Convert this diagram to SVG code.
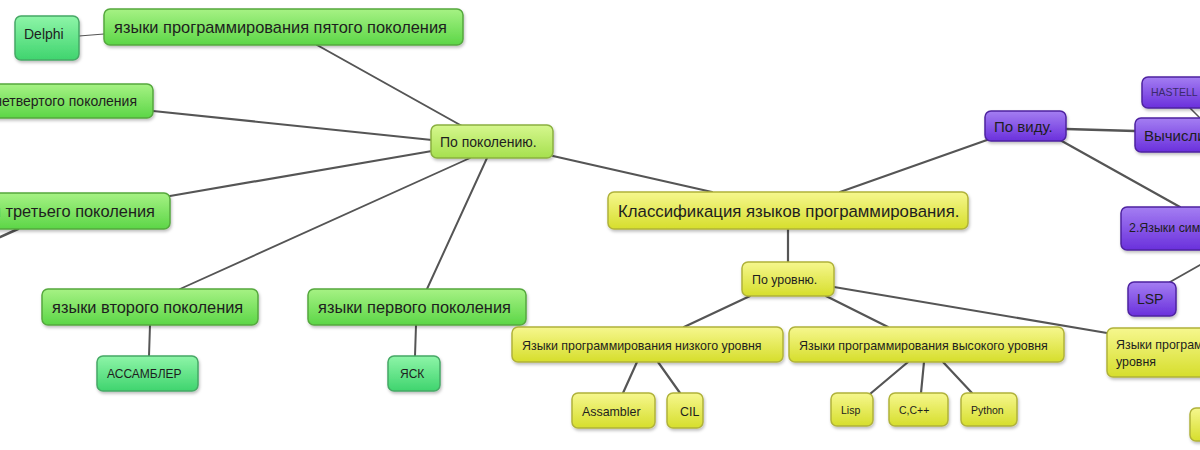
<svg xmlns="http://www.w3.org/2000/svg" width="1200" height="450" viewBox="0 0 1200 450">
<defs>
<linearGradient id="gGreen" x1="0" y1="0" x2="0" y2="1"><stop offset="0" stop-color="#a6f284"/><stop offset="1" stop-color="#5cd647"/></linearGradient>
<linearGradient id="gMint" x1="0" y1="0" x2="0" y2="1"><stop offset="0" stop-color="#8ef5a8"/><stop offset="1" stop-color="#3fd46e"/></linearGradient>
<linearGradient id="gHub" x1="0" y1="0" x2="0" y2="1"><stop offset="0" stop-color="#d6f78e"/><stop offset="1" stop-color="#a5e04e"/></linearGradient>
<linearGradient id="gYellow" x1="0" y1="0" x2="0" y2="1"><stop offset="0" stop-color="#f6f78e"/><stop offset="1" stop-color="#d6de2c"/></linearGradient>
<linearGradient id="gPurple" x1="0" y1="0" x2="0" y2="1"><stop offset="0" stop-color="#a47ef2"/><stop offset="1" stop-color="#6a30dc"/></linearGradient>
<filter id="sh" x="-10%" y="-20%" width="120%" height="150%"><feDropShadow dx="1" dy="2" stdDeviation="1.5" flood-color="#000" flood-opacity="0.25"/></filter>
</defs>
<style>
.n{filter:url(#sh);stroke-width:1.5}
.green{fill:url(#gGreen);stroke:#55a83e}
.mint{fill:url(#gMint);stroke:#46a866}
.hub{fill:url(#gHub);stroke:#8ab040}
.yel{fill:url(#gYellow);stroke:#b0b23a}
.pur{fill:url(#gPurple);stroke:#4e22a0}
text{font-family:"Liberation Sans",Arial,sans-serif;fill:#1e1e1e}
.f17{font-size:16.4px}.fr{font-size:16.8px}.f15{font-size:15px}.f14{font-size:14px}.fh{font-size:14px}.f13{font-size:12.4px}.f12{font-size:12px}.f11{font-size:10.5px}
.c line{stroke:#555;stroke-linecap:round}
</style>
<rect width="1200" height="450" fill="#fff"/>
<g class="c" id="connectors">
<line x1="79" y1="36" x2="104" y2="34" stroke-width="1.2"/>
<line x1="317" y1="45" x2="462" y2="126" stroke-width="2"/>
<line x1="153" y1="111" x2="432" y2="140" stroke-width="2.2"/>
<line x1="170" y1="196" x2="432" y2="151" stroke-width="2.2"/>
<line x1="18" y1="229" x2="0" y2="237" stroke-width="2.5"/>
<line x1="180" y1="289" x2="470" y2="158" stroke-width="1.8"/>
<line x1="427" y1="289" x2="487" y2="158" stroke-width="2"/>
<line x1="150" y1="325" x2="149" y2="356" stroke-width="2"/>
<line x1="416" y1="325" x2="415" y2="356" stroke-width="2"/>
<line x1="553" y1="156" x2="712" y2="192" stroke-width="2.2"/>
<line x1="840" y1="192" x2="987" y2="140" stroke-width="2.2"/>
<line x1="788" y1="229" x2="788" y2="262" stroke-width="2.2"/>
<line x1="750" y1="296" x2="684" y2="327" stroke-width="2.2"/>
<line x1="826" y1="296" x2="888" y2="327" stroke-width="2.2"/>
<line x1="834" y1="287" x2="1107" y2="333" stroke-width="2.2"/>
<line x1="637" y1="362" x2="623" y2="393" stroke-width="2.2"/>
<line x1="658" y1="362" x2="680" y2="393" stroke-width="2.2"/>
<line x1="908" y1="362" x2="870" y2="394" stroke-width="2.2"/>
<line x1="924" y1="362" x2="921" y2="393" stroke-width="2.2"/>
<line x1="943" y1="362" x2="972" y2="393" stroke-width="2.2"/>
<line x1="1066" y1="129" x2="1135" y2="131" stroke-width="2.5"/>
<line x1="1060" y1="140" x2="1180" y2="207" stroke-width="2.2"/>
<line x1="1190" y1="108" x2="1200" y2="118" stroke-width="1.5"/>
<line x1="1200" y1="265" x2="1170" y2="282" stroke-width="1.8"/>
</g>
<g id="n_delphi"><rect class="n mint" x="15" y="16" width="64" height="44" rx="6"/><text class="f14" x="24" y="39">Delphi</text></g>
<g id="n_gen5"><rect class="n green" x="104" y="9" width="359" height="36" rx="6"/><text class="f17" x="114" y="33">языки программирования пятого поколения</text></g>
<g id="n_gen4"><rect class="n green" x="-20" y="84" width="173" height="34" rx="6"/><text class="f14" x="137" y="106" text-anchor="end">языки четвертого поколения</text></g>
<g id="n_gen3"><rect class="n green" x="-20" y="193" width="190" height="36" rx="6"/><text class="f17" x="155" y="217" text-anchor="end">языки третьего поколения</text></g>
<g id="n_gen2"><rect class="n green" x="42" y="289" width="216" height="36" rx="6"/><text class="f17" x="52" y="313">языки второго поколения</text></g>
<g id="n_gen1"><rect class="n green" x="308" y="289" width="218" height="36" rx="6"/><text class="f17" x="318" y="313">языки первого поколения</text></g>
<g id="n_asm_ru"><rect class="n mint" x="97" y="356" width="101" height="35" rx="6"/><text class="f12" x="107" y="378">АССАМБЛЕР</text></g>
<g id="n_yask"><rect class="n mint" x="388" y="356" width="52" height="35" rx="6"/><text class="f12" x="400" y="378">ЯСК</text></g>
<g id="n_bygen"><rect class="n hub" x="431" y="125" width="122" height="33" rx="6"/><text class="fh" x="440" y="147">По поколению.</text></g>
<g id="n_root"><rect class="n yel" x="608" y="192" width="360" height="37" rx="6"/><text class="fr" x="618" y="217">Классификация языков программирования.</text></g>
<g id="n_bylevel"><rect class="n yel" x="742" y="262" width="92" height="34" rx="6"/><text class="f13" x="752" y="284">По уровню.</text></g>
<g id="n_low"><rect class="n yel" x="512" y="327" width="271" height="35" rx="6"/><text class="f13" x="522" y="350">Языки программирования низкого уровня</text></g>
<g id="n_high"><rect class="n yel" x="789" y="327" width="275" height="35" rx="6"/><text class="f13" x="799" y="350">Языки программирования высокого уровня</text></g>
<g id="n_super"><rect class="n yel" x="1107" y="328" width="110" height="49" rx="6"/><text class="f13" x="1116" y="349">Языки программирования</text><text class="f13" x="1116" y="366">уровня</text></g>
<g id="n_assambler"><rect class="n yel" x="572" y="393" width="83" height="35" rx="6"/><text class="f13" x="582" y="416">Assambler</text></g>
<g id="n_cil"><rect class="n yel" x="667" y="393" width="36" height="35" rx="6"/><text class="f13" x="680" y="416">CIL</text></g>
<g id="n_lisp"><rect class="n yel" x="831" y="393" width="42" height="33" rx="6"/><text class="f11" x="841" y="414">Lisp</text></g>
<g id="n_cpp"><rect class="n yel" x="889" y="393" width="59" height="33" rx="6"/><text class="f11" x="899" y="414">C,C++</text></g>
<g id="n_python"><rect class="n yel" x="961" y="393" width="56" height="33" rx="6"/><text class="f11" x="971" y="414">Python</text></g>
<g id="n_partial"><rect class="n yel" x="1190" y="408" width="30" height="33" rx="6"/></g>
<g id="n_bytype"><rect class="n pur" x="985" y="111" width="81" height="30" rx="6"/><text class="f15" x="994" y="132">По виду.</text></g>
<g id="n_hastell"><rect class="n pur" x="1142" y="77" width="70" height="31" rx="6"/><text class="f11" x="1151" y="96" style="fill:#3a2a6a">HASTELL</text></g>
<g id="n_comp"><rect class="n pur" x="1135" y="118" width="80" height="34" rx="6"/><text class="f15" x="1144" y="141">Вычислительные</text></g>
<g id="n_sym"><rect class="n pur" x="1121" y="207" width="95" height="43" rx="6"/><text class="f13" x="1129" y="232">2.Языки символьной</text></g>
<g id="n_lsp"><rect class="n pur" x="1128" y="282" width="48" height="34" rx="6"/><text class="f14" x="1137" y="304">LSP</text></g>
</svg>
